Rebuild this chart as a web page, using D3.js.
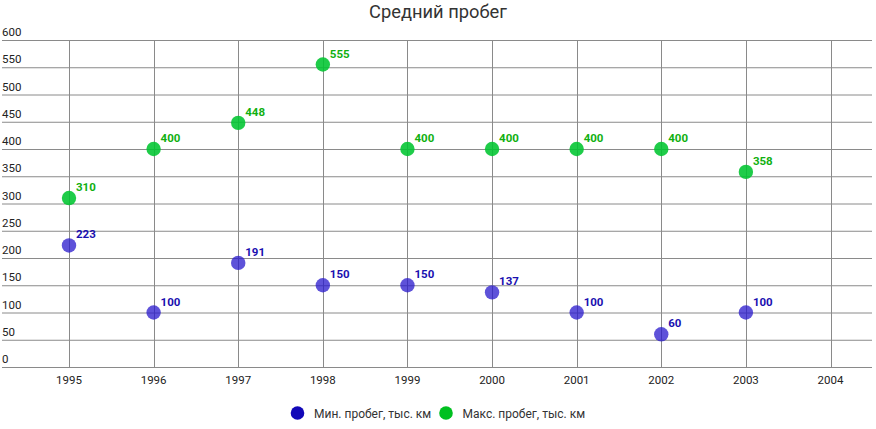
<!DOCTYPE html>
<html><head><meta charset="utf-8">
<script src="https://cdn.jsdelivr.net/npm/d3@7"></script>
<style>body{margin:0;background:#fff;font-family:Roboto,sans-serif}</style>
</head><body><svg id="c" width="876" height="429"></svg>
<script>
const years = [1995,1996,1997,1998,1999,2000,2001,2002,2003];
const minRun = [223,100,191,150,150,137,100,60,100];
const maxRun = [310,400,448,555,400,400,400,400,358];
const xTicks = [1995,1996,1997,1998,1999,2000,2001,2002,2003,2004];
const yTicks = [0,50,100,150,200,250,300,350,400,450,500,550,600];
const seriesNames = ["Мин. пробег, тыс. км","Макс. пробег, тыс. км"];
const title = "Средний пробег";

const svg = d3.select("#c");
const x = d3.scaleLinear().domain([1995,2004]).range([69,830.5]);
const y = d3.scaleLinear().domain([0,600]).range([367,40]);
const left = 2, right = 872;

svg.append("text").attr("x",438).attr("y",18).attr("text-anchor","middle")
  .attr("font-size",18.3).attr("fill","#333").text(title);

const g = svg.append("g");
g.selectAll("line.h").data(yTicks).enter().append("line")
  .attr("x1",left).attr("x2",right).attr("y1",d=>y(d)+0.5).attr("y2",d=>y(d)+0.5)
  .attr("stroke","#8a8a8a").attr("stroke-width",1);
g.selectAll("line.v").data(xTicks).enter().append("line")
  .attr("x1",d=>Math.round(x(d))+0.5).attr("x2",d=>Math.round(x(d))+0.5)
  .attr("y1",y(600)).attr("y2",y(0))
  .attr("stroke","#8a8a8a").attr("stroke-width",1);
g.selectAll("text.yl").data(yTicks).enter().append("text")
  .attr("x",2).attr("y",d=>y(d)-4).attr("font-size",11.5).attr("fill","#222").text(d=>d);
g.selectAll("text.xl").data(xTicks).enter().append("text")
  .attr("x",d=>x(d)).attr("y",384).attr("text-anchor","middle")
  .attr("font-size",11.5).attr("fill","#222").text(d=>d);

const series = [
  {vals:minRun, fill:"#2818cc", op:0.75, label:"#1a10b0", legend:"#1208b8"},
  {vals:maxRun, fill:"#00c530", op:0.88, label:"#10b010", legend:"#00c020"}
];
series.forEach(s=>{
  const pts = years.map((yr,i)=>({yr,v:s.vals[i]}));
  g.selectAll(null).data(pts).enter().append("circle")
    .attr("cx",d=>x(d.yr)).attr("cy",d=>y(d.v)).attr("r",7.2)
    .attr("fill",s.fill).attr("fill-opacity",s.op);
  g.selectAll(null).data(pts).enter().append("text")
    .attr("x",d=>x(d.yr)+7).attr("y",d=>y(d.v)-7)
    .attr("font-size",11.5).attr("font-weight","bold").attr("fill",s.label).text(d=>d.v);
});

const lg = svg.append("g");
const lx = [297.5,446];
seriesNames.forEach((n,i)=>{
  lg.append("circle").attr("cx",lx[i]).attr("cy",413).attr("r",6.8).attr("fill",series[i].legend);
  lg.append("text").attr("x",lx[i]+16.5).attr("y",417.5).attr("font-size",12).attr("fill","#333").text(n);
});
</script></body></html>
